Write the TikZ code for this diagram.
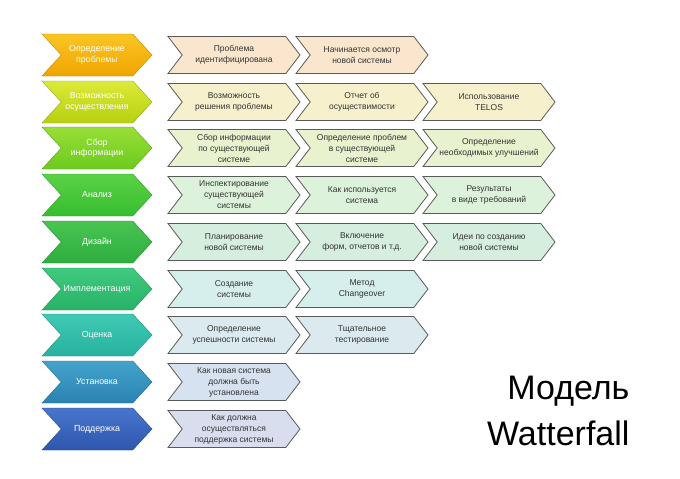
\documentclass[tikz,border=0pt]{standalone}
\usepackage{fontspec}
\setmainfont{Liberation Sans}
\usetikzlibrary{shapes.symbols}

\definecolor{ph1t}{HTML}{F9C624}\definecolor{ph1b}{HTML}{F0A400}
\definecolor{ph2t}{HTML}{DCEA38}\definecolor{ph2b}{HTML}{B6D012}
\definecolor{ph3t}{HTML}{98DE36}\definecolor{ph3b}{HTML}{6CCA1E}
\definecolor{ph4t}{HTML}{5AD246}\definecolor{ph4b}{HTML}{36BE2E}
\definecolor{ph5t}{HTML}{48C450}\definecolor{ph5b}{HTML}{2EAE40}
\definecolor{ph6t}{HTML}{40CA80}\definecolor{ph6b}{HTML}{28B268}
\definecolor{ph7t}{HTML}{40CAB4}\definecolor{ph7b}{HTML}{26B29E}
\definecolor{ph8t}{HTML}{44A4CC}\definecolor{ph8b}{HTML}{2A82B2}
\definecolor{ph9t}{HTML}{4876CC}\definecolor{ph9b}{HTML}{2E56AE}
\definecolor{tk1}{HTML}{FAE6CC}
\definecolor{tk2}{HTML}{F6F0CC}
\definecolor{tk3}{HTML}{E8F2CE}
\definecolor{tk4}{HTML}{DCF2DA}
\definecolor{tk5}{HTML}{D6EEDE}
\definecolor{tk6}{HTML}{D6EEEC}
\definecolor{tk7}{HTML}{DAEAEE}
\definecolor{tk8}{HTML}{D6E2F0}
\definecolor{tk9}{HTML}{D8DEEE}
\definecolor{edgegray}{HTML}{5A5A5A}
\definecolor{textgray}{HTML}{333333}

\begin{document}
\begin{tikzpicture}[x=1pt,y=-1pt]

\tikzset{phase/.style = {shape=signal, signal from=west, signal to=east,
  signal pointer angle=95, minimum width=110pt, minimum height=42pt,
  inner sep=0pt, align=center, text=white, draw=#1b!80!black, line width=0.4pt,
  top color=#1t, bottom color=#1b, font=\fontsize{8.8}{10.5}\selectfont}}
\tikzset{task/.style = {shape=signal, signal from=west, signal to=east,
  signal pointer angle=105, minimum width=132pt, minimum height=37pt,
  inner sep=0pt, align=center, text=textgray, draw=edgegray, line width=0.8pt,
  fill=#1, font=\fontsize{8.5}{11}\selectfont}}

\useasboundingbox (0,0) rectangle (680,479);

%phases
\node[phase=ph1] (p1) at (97,55) {Определение\\проблемы};
\node[phase=ph2] (p2) at (97,102) {Возможность\\осуществления};
\node[phase=ph3] (p3) at (97,148) {Сбор\\информации};
\node[phase=ph4] (p4) at (97,195) {Анализ};
\node[phase=ph5] (p5) at (97,242) {Дизайн};
\node[phase=ph6] (p6) at (97,289) {Имплементация};
\node[phase=ph7] (p7) at (97,335) {Оценка};
\node[phase=ph8] (p8) at (97,382) {Установка};
\node[phase=ph9] (p9) at (97,429) {Поддержка};

%tasks
\node[task=tk1] (t11) at (234,55) {Проблема\\идентифицирована};
\node[task=tk1] (t12) at (362,55) {Начинается осмотр\\новой системы};
\node[task=tk2] (t21) at (234,102) {Возможность\\решения проблемы};
\node[task=tk2] (t22) at (362,102) {Отчет об\\осуществимости};
\node[task=tk2] (t23) at (489,102) {Использование\\TELOS};
\node[task=tk3] (t31) at (234,148) {Сбор информации\\по существующей\\системе};
\node[task=tk3] (t32) at (362,148) {Определение проблем\\в существующей\\системе};
\node[task=tk3] (t33) at (489,148) {Определение\\необходимых улучшений};
\node[task=tk4] (t41) at (234,195) {Инспектирование\\существующей\\системы};
\node[task=tk4] (t42) at (362,195) {Как используется\\система};
\node[task=tk4] (t43) at (489,195) {Результаты\\в виде требований};
\node[task=tk5] (t51) at (234,242) {Планирование\\новой системы};
\node[task=tk5] (t52) at (362,242) {Включение\\форм, отчетов и т.д.};
\node[task=tk5] (t53) at (489,242) {Идеи по созданию\\новой системы};
\node[task=tk6] (t61) at (234,289) {Создание\\системы};
\node[task=tk6] (t62) at (362,289) {Метод\\Changeover};
\node[task=tk7] (t71) at (234,335) {Определение\\успешности системы};
\node[task=tk7] (t72) at (362,335) {Тщательное\\тестирование};
\node[task=tk8] (t81) at (234,382) {Как новая система\\должна быть\\установлена};
\node[task=tk9] (t91) at (234,429) {Как должна\\осуществляться\\поддержка системы};

%title
\node[anchor=east, align=right, font=\fontsize{34}{46}\selectfont] (title) at (633,411) {Модель\\Watterfall};

\end{tikzpicture}
\end{document}
